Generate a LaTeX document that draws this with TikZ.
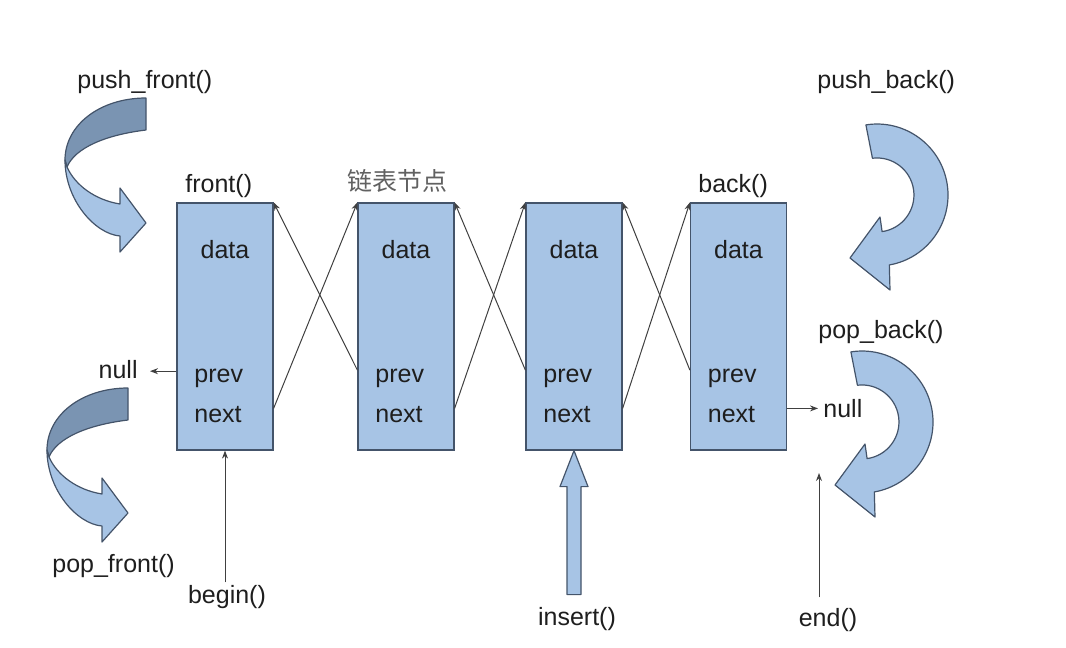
\documentclass[tikz,border=0pt]{standalone}
\usepackage{fontspec}
\setmainfont{Liberation Sans}
\newfontfamily\cjk{Noto Sans CJK SC}
\usepackage{tikz}
\usetikzlibrary{arrows.meta,calc}
\definecolor{boxblue}{HTML}{A7C4E5}
\definecolor{darkblue}{HTML}{7A94B2}
\definecolor{edge}{HTML}{44546A}
\definecolor{ink}{HTML}{1E1E1E}

\tikzset{
  listbox/.style={draw=edge, fill=boxblue, line width=0.6pt,
    minimum width=48pt, minimum height=123.5pt, inner sep=0pt},
  txt/.style={anchor=base west, inner sep=0pt, text=ink,
    font=\fontsize{12.5}{15}\selectfont},
  ptr/.style={draw=ink!85, line width=0.5pt, -{Stealth[length=4pt,width=3pt]}},
  blob/.style={draw=edge, line width=0.6pt, line join=round},
}

\begin{document}
\begin{tikzpicture}[x=0.5pt,y=-0.5pt]
        \useasboundingbox (0,0) rectangle (1066,648);
        % list nodes
        \foreach \i/\x in {1/225,2/406,3/574,4/738.5} {
            \node[listbox] (n\i) at (\x,326.5) {};
            \node[txt, anchor=base] (d\i) at (\x,258) {data};
            \node[txt] (p\i) at (\x-31,382) {prev};
            \node[txt] (x\i) at (\x-31,422) {next};
        }
        \node[txt] (fr) at (185,192) {front()};
        \node[txt, text=ink!70] (jd) at (347,190) {\cjk 链表节点};
        \node[txt] (bk) at (698,192) {back()};
        % prev / next links
        \foreach \a/\b in {1/2,2/3,3/4} {
            \draw[ptr] ($(n\a.north east)!0.83!(n\a.south east)$) -- (n\b.north west);
            \draw[ptr] ($(n\b.north west)!0.676!(n\b.south west)$) -- (n\a.north east);
        }
        % null ends
        \node[txt, anchor=base east] (nl) at (138,378) {null};
        \coordinate (pl) at ($(n1.north west)!0.68!(n1.south west)$);
        \draw[ptr, shorten >=6pt] (pl) -- (pl -| nl.east);
        \node[txt] (nr) at (823,417) {null};
        \coordinate (pr) at ($(n4.north east)!0.83!(n4.south east)$);
        \draw[ptr, shorten >=2.5pt] (pr) -- (pr -| nr.west);
        % iterators
        \node[txt, anchor=base] (bg) at (227,603) {begin()};
        \draw[ptr, shorten <=1pt] (n1.south |- bg.north) -- (n1.south);
        \node[txt, anchor=base] (ed) at (828,626) {end()};
        \coordinate (et) at (819,473);
        \draw[ptr, shorten <=5pt] (et |- ed.north) -- (et);
        \node[txt, anchor=base] (ins) at (577,625) {insert()};
        \filldraw[blob, fill=boxblue] (n3.south) -- ++(14,36) -- ++(-7,0) -- ++(0,108)
            -- ++(-14,0) -- ++(0,-108) -- ++(-7,0) -- cycle;
        % front side
        \node[txt] (pf) at (77,88) {push\_front()};
        \node[txt] (qf) at (52,572) {pop\_front()};
        \foreach \dx/\dy in {0/0,-18/290} {
            \begin{scope}[shift={(\dx,\dy)}]
                \filldraw[blob, fill=darkblue] (146,98) .. controls (100,98) and (65,125) .. (65,160)
                    -- (67,167) .. controls (75,148) and (105,135) .. (146,130) -- cycle;
                \filldraw[blob, fill=boxblue] (65,160) .. controls (65,200) and (95,234) .. (120,236)
                    -- (120,252) -- (146,223) -- (120,188) -- (120,204)
                    .. controls (95,200) and (75,185) .. (67,167) -- cycle;
            \end{scope}
        }
        % back side
        \node[txt] (pb) at (817,88) {push\_back()};
        \node[txt] (qb) at (818,338) {pop\_back()};
        \foreach \dx/\dy in {0/0,-15/227} {
            \begin{scope}[shift={(\dx,\dy)}]
                \filldraw[blob, fill=boxblue] (865.9,124.9) arc[start angle=-99, end angle=80, radius=71]
                    -- (890,290) -- (850,258) -- (880,217) -- (882.1,231.6)
                    arc[start angle=82, end angle=-97, radius=37] -- cycle;
            \end{scope}
        }
    \end{tikzpicture}
\end{document}
